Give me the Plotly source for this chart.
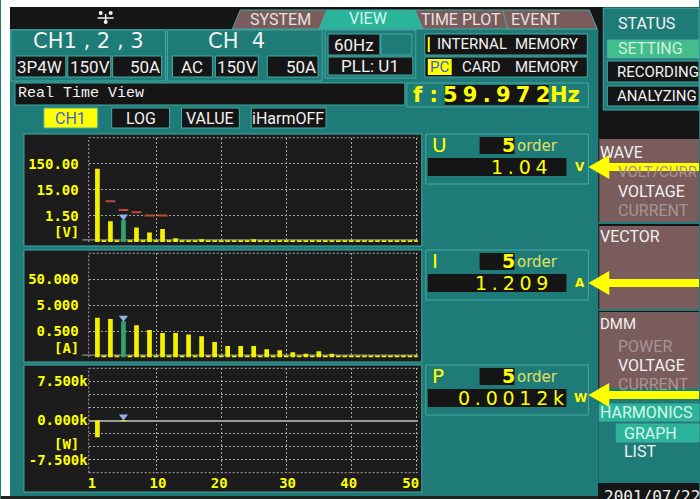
import math
import plotly.graph_objects as go

W, H = 700, 499

# ---------------- data ----------------
orders = list(range(1, 51))
u_volts = [96, 0.176, 0.94, 0.176, 1.04, 0.176, 0.54, 0.176, 0.35, 0.176,
           0.47, 0.176, 0.21, 0.176, 0.176, 0.176, 0.19, 0.176, 0.176, 0.176,
           0.176, 0.176, 0.176, 0.176, 0.19, 0.176, 0.176, 0.176, 0.176, 0.176,
           0.176, 0.176, 0.176, 0.176, 0.176, 0.176, 0.176, 0.176, 0.176, 0.176,
           0.176, 0.176, 0.176, 0.176, 0.176, 0.176, 0.176, 0.176, 0.176, 0.176]
i_amps = [1.67, 0.059, 1.49, 0.059, 1.209, 0.059, 0.85, 0.059, 0.56, 0.059,
          0.43, 0.059, 0.43, 0.059, 0.38, 0.059, 0.32, 0.059, 0.195, 0.059,
          0.136, 0.059, 0.136, 0.059, 0.136, 0.059, 0.102, 0.059, 0.093, 0.059,
          0.078, 0.059, 0.069, 0.059, 0.085, 0.059, 0.069, 0.059, 0.059, 0.059,
          0.059, 0.059, 0.059, 0.059, 0.059, 0.059, 0.059, 0.059, 0.059, 0.059]
p_watts = [-3200, 0, 0, 0, 1.2, 0, 0, 0, 0, 0,
           0, 0, 0, 0, 0, 0, 0, 0, 0, 0,
           0, 0, 0, 0, 0, 0, 0, 0, 0, 0,
           0, 0, 0, 0, 0, 0, 0, 0, 0, 0,
           0, 0, 0, 0, 0, 0, 0, 0, 0, 0]
u_limit_orders = [3, 5, 7, 9, 11]
u_limit_volts = [5.5, 2.55, 2.08, 1.55, 1.55]
sel_order = 5

u_ticks = [1.5, 15, 150]
u_ticktext = ["1.50", "15.00", "150.00"]
i_ticks = [0.5, 5, 50]
i_ticktext = ["0.500", "5.000", "50.000"]
p_ticks = [-10000, -7500, -5000, -2500, 0, 2500, 5000, 7500, 10000]
p_ticktext = ["", "-7.500k", "", "", "0.000k", "", "", "7.500k", ""]
x_label_pos = [0.17, 10.3, 19.7, 30.2, 39.6, 49.1]
x_label_text = ["1", "10", "20", "30", "40", "50"]
x_grid = [10, 20, 30, 40, 50]

# ---------------- style ----------------
TEAL = "#1f7b78"
TEAL_L = "#46aaa4"
DARK = "#1c1c1c"
BLACK = "#151515"
BROWN = "#7b5c5c"
TABG = "#2ab59b"
YEL = "#ffff00"
BARY = "#f2f200"
GREEN = "#2ea36e"
WHITE = "#f2f2f2"
GRAYT = "#a89494"
GRID = "#a8a8a8"
RED = "#c24a36"
CURS = "#8eb1ee"
UI = "Roboto, Liberation Sans, sans-serif"
MONO = "DejaVu Sans Mono"

shapes = []
annots = []


def X(px):
    return px / W


def Y(py):
    return 1 - py / H


def rect(x0, y0, x1, y1, fill, line=None, lw=1, layer="below"):
    shapes.append(dict(type="rect", xref="paper", yref="paper",
                       x0=X(x0), x1=X(x1), y0=Y(y0), y1=Y(y1),
                       fillcolor=fill, layer=layer,
                       line=dict(color=line if line else fill, width=lw if line else 0)))


def poly(pts, fill, line=None, layer="below"):
    d = "M " + " L ".join(f"{X(a):.5f},{Y(b):.5f}" for a, b in pts) + " Z"
    shapes.append(dict(type="path", xref="paper", yref="paper", path=d,
                       fillcolor=fill, layer=layer,
                       line=dict(color=line if line else fill, width=1 if line else 0)))


def txt(x, y, s, color=WHITE, size=16, family=UI, xanchor="left", weight="normal"):
    annots.append(dict(x=X(x), y=Y(y), xref="paper", yref="paper", text=s,
                       showarrow=False, xanchor=xanchor, yanchor="middle",
                       borderpad=0,
                       font=dict(family=family, size=size, color=color, weight=weight)))


# ---------- frame ----------
rect(0, 0, 700, 7, "white")
rect(0, 0, 9, 496, "white")
rect(0, 496, 600, 499, "#222222")
rect(9, 7, 600, 29, BLACK)
rect(599, 7, 700, 499, BLACK)

# network icon
for cx, cy in ((100, 13), (110, 13), (105, 22)):
    shapes.append(dict(type="circle", xref="paper", yref="paper", x0=X(cx - 2), x1=X(cx + 2),
                       y0=Y(cy - 2), y1=Y(cy + 2), fillcolor=WHITE, line=dict(width=0)))
shapes.append(dict(type="line", xref="paper", yref="paper", x0=X(97), x1=X(113), y0=Y(18), y1=Y(18),
                   line=dict(color=WHITE, width=1.5)))
shapes.append(dict(type="line", xref="paper", yref="paper", x0=X(105), x1=X(105), y0=Y(14), y1=Y(21),
                   line=dict(color=WHITE, width=1.5)))

# tabs
poly([(232, 29), (240, 10), (327, 10), (319, 29)], BROWN, TEAL_L)
poly([(508, 29), (503, 10), (590, 10), (598, 29)], BROWN, TEAL_L)
poly([(423, 29), (415, 10), (503, 10), (508, 29)], BROWN, TEAL_L)
poly([(319, 29), (327, 10), (415, 10), (423, 29)], TABG, TEAL_L)
txt(280, 19, "SYSTEM", "#e8e0e0", 16, xanchor="center")
txt(368, 18, "VIEW", "#d8f5ea", 16, xanchor="center")
txt(461, 19, "TIME PLOT", "#e8e0e0", 16, xanchor="center")
txt(537, 19, "EVENT", "#e8e0e0", 16, xanchor="center")

# channel boxes
rect(10, 30, 165, 81, TEAL, TEAL_L)
rect(14, 56, 65, 77, BLACK, TEAL_L)
rect(67, 56, 110, 77, BLACK, TEAL_L)
rect(112, 56, 161, 77, BLACK, TEAL_L)
txt(88, 41, "CH1 , 2 , 3", WHITE, 21, "DejaVu Sans", "center")
txt(15, 67, "3P4W", WHITE, 17)
txt(68, 67, "150V", WHITE, 17)
txt(160, 67, "50A", WHITE, 17, xanchor="right")

rect(167, 30, 322, 81, TEAL, TEAL_L)
rect(172, 56, 212, 77, BLACK, TEAL_L)
rect(215, 56, 258, 77, BLACK, TEAL_L)
rect(267, 56, 318, 77, BLACK, TEAL_L)
txt(236, 41, "CH  4", WHITE, 21, "DejaVu Sans", "center")
txt(192, 67, "AC", WHITE, 17, xanchor="center")
txt(216, 67, "150V", WHITE, 17)
txt(317, 67, "50A", WHITE, 17, xanchor="right")

rect(325, 30, 416, 78, TEAL, TEAL_L)
rect(328, 34, 380, 55, BLACK, TEAL_L)
rect(381, 34, 412, 55, TEAL, TEAL_L)
rect(328, 57, 413, 75, BLACK, TEAL_L)
txt(354, 45, "60Hz", WHITE, 17, xanchor="center")
txt(370, 66, "PLL: U1", WHITE, 17, xanchor="center")

rect(425, 34, 588, 55, BLACK, TEAL_L)
rect(428, 37, 430, 52, YEL)
txt(436, 44, "INTERNAL", WHITE, 15)
txt(514, 44, "MEMORY", WHITE, 15)
rect(425, 57, 588, 77, BLACK, TEAL_L)
rect(428, 59, 452, 75, YEL)
txt(440, 67, "PC", "#3a66d8", 15, xanchor="center")
txt(461, 67, "CARD", WHITE, 15)
txt(514, 67, "MEMORY", WHITE, 15)

rect(14, 83, 405, 105, BLACK, TEAL_L)
txt(16, 94, "Real Time View", WHITE, 15, "Liberation Mono")

rect(407, 83, 589, 107, TEAL, TEAL_L)
rect(445, 85, 549, 105, BLACK)
txt(412, 95, "f :", YEL, 21, "DejaVu Sans", weight="bold")
T = "\u2005"
txt(497, 95, T.join("59.972"), YEL, 21, "DejaVu Sans", "center", "bold")
txt(550, 95, "Hz", YEL, 21, "DejaVu Sans", weight="bold")

# buttons
rect(43, 108, 97, 128, YEL, TEAL_L)
txt(70, 118, "CH1", "#3a66d8", 16, xanchor="center")
rect(111, 108, 169, 128, BLACK, TEAL_L)
txt(140, 118, "LOG", WHITE, 16, xanchor="center")
rect(181, 108, 239, 128, BLACK, TEAL_L)
txt(210, 118, "VALUE", WHITE, 16, xanchor="center")
rect(251, 108, 326, 128, BLACK, TEAL_L)
txt(288, 118, "iHarmOFF", WHITE, 16, xanchor="center")

# chart panels
rect(23, 134, 422, 246, DARK, TEAL_L)
rect(23, 250, 422, 362, DARK, TEAL_L)
rect(23, 365, 422, 492, DARK, TEAL_L)

# value boxes
T2 = "\u2005"
for (y0, sym, val, unit, right) in [(134, "U", "1.04", "V", 550),
                                    (250, "I", "1.209", "A", 550),
                                    (365, "P", "0.0012k", "W", 566)]:
    rect(426, y0, 589, y0 + 50, TEAL, TEAL_L)
    txt(431, y0 + 11, sym, YEL, 20, "DejaVu Sans")
    rect(480, y0 + 3, 515, y0 + 20, BLACK)
    txt(516, y0 + 11, "5", YEL, 19, "DejaVu Sans", "right", "bold")
    txt(516, y0 + 12, "order", "#e0e060", 15, "DejaVu Sans")
    rect(428, y0 + 24, 567, y0 + 42, BLACK)
    txt(right, y0 + 33, T2.join(val), YEL, 19, "DejaVu Sans", "right")
    txt(581, y0 + 33, unit, YEL, 12, "DejaVu Sans", "center", "bold")

# right column: status
rect(604, 8, 700, 110, TEAL, TEAL_L)
txt(618, 23, "STATUS", WHITE, 16)
rect(608, 40, 700, 58, "#44bd8c", TEAL_L)
txt(618, 49, "SETTING", "#cdf2de", 16)
rect(608, 61, 700, 82, BLACK, TEAL_L)
txt(617, 72, "RECORDING", WHITE, 15)
rect(608, 86, 700, 106, BLACK, TEAL_L)
txt(617, 96, "ANALYZING", WHITE, 15)

rect(600, 139, 700, 222, BROWN)
rect(599, 222, 700, 224, TEAL)
txt(600, 152, "WAVE", WHITE, 16)
txt(618, 172, "VOLT/CURR", GRAYT, 15)
txt(618, 192, "VOLTAGE", WHITE, 16)
txt(618, 210, "CURRENT", GRAYT, 16)

rect(600, 226, 700, 309, BROWN)
rect(599, 309, 700, 311, TEAL)
txt(600, 237, "VECTOR", WHITE, 16)

rect(600, 312, 700, 388, BROWN)
txt(600, 324, "DMM", WHITE, 15)
txt(618, 346, "POWER", GRAYT, 16)
txt(618, 365, "VOLTAGE", WHITE, 16)
txt(618, 384, "CURRENT", GRAYT, 16)

rect(599, 388, 700, 483, TEAL)
rect(600, 404, 700, 421, TABG, TEAL_L)
txt(600, 412, "HARMONICS", "#d8f5ea", 16)
rect(617, 424, 700, 442, TABG, TEAL_L)
txt(624, 433, "GRAPH", "#d8f5ea", 16)
txt(624, 451, "LIST", WHITE, 16)
rect(599, 483, 700, 499, BLACK)
txt(604, 496, "2001/07/22", WHITE, 16, MONO)

# arrows
for cy in (167, 283, 395):
    rect(606, cy - 4, 700, cy + 4, YEL, layer="above")
    poly([(589, cy), (610, cy - 12), (610, cy + 12)], YEL, layer="above")

# chart unit labels
txt(79, 232, "[V]", YEL, 14, MONO, "right", "bold")
txt(79, 348, "[A]", YEL, 14, MONO, "right", "bold")
txt(79, 444, "[W]", YEL, 14, MONO, "right", "bold")

# ---------------- figure ----------------
fig = go.Figure()

colors = [GREEN if o == sel_order else BARY for o in orders]

fig.add_trace(go.Bar(x=orders, y=u_volts, width=0.72, marker=dict(color=colors, line=dict(width=0)),
                     xaxis="x", yaxis="y"))
fig.add_trace(go.Bar(x=orders, y=i_amps, width=0.72, marker=dict(color=colors, line=dict(width=0)),
                     xaxis="x2", yaxis="y2"))
fig.add_trace(go.Bar(x=orders, y=p_watts, width=0.72, marker=dict(color=BARY, line=dict(width=0)),
                     xaxis="x3", yaxis="y3"))

fig.add_trace(go.Scatter(x=u_limit_orders, y=u_limit_volts, mode="markers",
                         marker=dict(symbol="line-ew", size=7, line=dict(color=RED, width=2)),
                         xaxis="x", yaxis="y"))

# domains (pixels)
U_TOP, U_BOT = 137.7, 242.0
I_TOP, I_BOT = 253.3, 357.3
P_TOP, P_BOT = 368.3, 472.7
X_L, X_R = 88, 418
u_range = [math.log10(0.15), math.log10(1500)]
i_range = [math.log10(0.05), math.log10(500)]
p_range = [-10000, 10000]

# cursor triangle sits a few pixels above the selected bar
gap_px = 3.6
u_dec_px = (U_BOT - U_TOP) / (u_range[1] - u_range[0])
i_dec_px = (I_BOT - I_TOP) / (i_range[1] - i_range[0])
p_px = (P_BOT - P_TOP) / (p_range[1] - p_range[0])
u_cur = u_volts[sel_order - 1] * 10 ** (gap_px / u_dec_px)
i_cur = i_amps[sel_order - 1] * 10 ** (gap_px / i_dec_px)
p_cur = p_watts[sel_order - 1] + (gap_px + 0.5) / p_px
for xa, ya, yv in (("x", "y", u_cur), ("x2", "y2", i_cur), ("x3", "y3", p_cur)):
    fig.add_trace(go.Scatter(x=[sel_order], y=[yv], mode="markers",
                             marker=dict(symbol="triangle-down", size=8, color=CURS),
                             xaxis=xa, yaxis=ya))

gd = "2px,2px"
xcommon = dict(domain=[X(X_L), X(X_R)], range=[-0.33, 50.2], showline=False, zeroline=False,
               ticks="", fixedrange=True)
xa_grid = dict(tickvals=x_grid, showticklabels=False, showgrid=True, gridcolor=GRID,
               griddash=gd, gridwidth=1)
tickfont = dict(family=MONO, size=14, color=YEL, weight="bold")

fig.update_layout(
    width=W, height=H, margin=dict(l=0, r=0, t=0, b=0),
    paper_bgcolor=TEAL, plot_bgcolor="rgba(0,0,0,0)",
    showlegend=False, barmode="overlay",
    xaxis=dict(**xcommon, **xa_grid, anchor="y"),
    xaxis2=dict(**xcommon, **xa_grid, anchor="y2"),
    xaxis3=dict(**xcommon, anchor="y3", tickvals=x_label_pos, ticktext=x_label_text,
                showgrid=False, tickfont=tickfont, ticklabelstandoff=0,
                minor=dict(tickvals=x_grid, showgrid=True, gridcolor=GRID, griddash=gd,
                           gridwidth=1, ticks="")),
    yaxis=dict(domain=[Y(U_BOT), Y(U_TOP)], type="log", range=u_range, anchor="x",
               tickvals=u_ticks, ticktext=u_ticktext, showgrid=True, gridcolor=GRID,
               griddash=gd, ticks="", tickfont=tickfont, ticklabelstandoff=9,
               zeroline=False, showline=False, fixedrange=True),
    yaxis2=dict(domain=[Y(I_BOT), Y(I_TOP)], type="log", range=i_range, anchor="x2",
                tickvals=i_ticks, ticktext=i_ticktext, showgrid=True, gridcolor=GRID,
                griddash=gd, ticks="", tickfont=tickfont, ticklabelstandoff=9,
                zeroline=False, showline=False, fixedrange=True),
    yaxis3=dict(domain=[Y(P_BOT), Y(P_TOP)], range=p_range, anchor="x3",
                tickvals=p_ticks, ticktext=p_ticktext, showgrid=True, gridcolor=GRID,
                griddash=gd, ticks="", tickfont=tickfont, ticklabelstandoff=0,
                zeroline=True, zerolinecolor="#9a9a9a", zerolinewidth=1.5,
                showline=False, fixedrange=True),
)

# plot-area edges and base lines
for xr, yr in (("x", "y"), ("x2", "y2"), ("x3", "y3")):
    shapes.append(dict(type="line", xref=xr + " domain", yref=yr + " domain",
                       x0=0, x1=0, y0=0, y1=1, line=dict(color=GRID, width=1, dash=gd), layer="below"))
    shapes.append(dict(type="line", xref=xr + " domain", yref=yr + " domain",
                       x0=0, x1=1, y0=1, y1=1, line=dict(color=GRID, width=1, dash=gd), layer="below"))
shapes.append(dict(type="line", xref="x3 domain", yref="y3 domain",
                   x0=0, x1=1, y0=0, y1=0, line=dict(color=GRID, width=1, dash=gd), layer="below"))
for xr, yr in (("x", "y"), ("x2", "y2")):
    shapes.append(dict(type="line", xref=xr + " domain", yref=yr + " domain",
                       x0=-0.02, x1=1, y0=0.02, y1=0.02, line=dict(color="#8c8c8c", width=1.3),
                       layer="below"))

fig.update_layout(shapes=shapes, annotations=annots)
fig.write_html("out.html",
               config={"displayModeBar": False},
               post_script="document.body.style.margin='0';document.body.style.padding='0';"
                           "document.body.style.overflow='hidden';")
